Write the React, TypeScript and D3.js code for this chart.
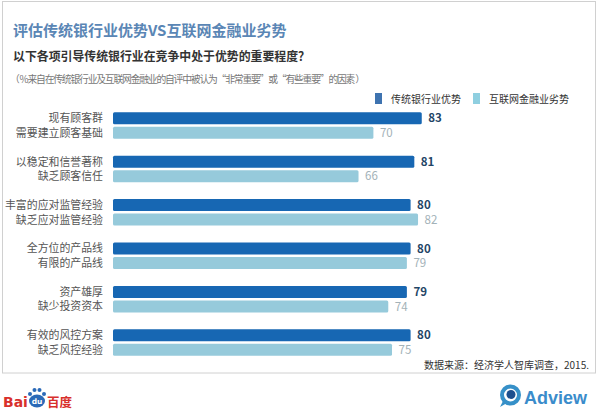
import React from "react";
import * as d3 from "d3";

const categoriesTop = ["现有顾客群", "以稳定和信誉著称", "丰富的应对监管经验", "全方位的产品线", "资产雄厚", "有效的风控方案"];
const categoriesBottom = ["需要建立顾客基础", "缺乏顾客信任", "缺乏应对监管经验", "有限的产品线", "缺少投资资本", "缺乏风控经验"];
const bankValues = [83, 81, 80, 80, 79, 80];
const internetValues = [70, 66, 82, 79, 74, 75];
const seriesNames = ["传统银行业优势", "互联网金融业劣势"];

const FONT = "'Noto Sans CJK SC', 'Noto Sans', sans-serif";
const DARK = "#1767b3";
const LIGHT = "#96cadb";

export default function App() {
  const W = 600, H = 413;
  const x = d3.scaleLinear().domain([0, 100]).range([113, 485]);
  const y0 = d3.scaleBand<number>().domain(d3.range(categoriesTop.length)).range([112.3, 112.3 + 6 * 43.4]).padding(0);
  const y1 = d3.scaleBand<string>().domain(seriesNames).range([0, 26.5]).paddingInner(0.17);
  const bw = y1.bandwidth();

  return (
    <svg width={W} height={H} viewBox={`0 0 ${W} ${H}`} style={{ position: "fixed", left: 0, top: 0, display: "block", background: "#fff" }} fontFamily={FONT}>
      <rect x={2.5} y={1.5} width={593} height={371.5} fill="#fff" stroke="#d0d0d0" strokeWidth={1} />
      <text x={13} y={36} fontSize={15} fontWeight={700} fill="#5a86b5">评估传统银行业优势VS互联网金融业劣势</text>
      <text x={13} y={61} fontSize={12.4} fontWeight={700} fill="#333" textLength={297} lengthAdjust="spacingAndGlyphs">以下各项引导传统银行业在竞争中处于优势的重要程度？</text>
      <text x={10} y={83} fontSize={9.8} fill="#777" textLength={355} lengthAdjust="spacing">（ %来自在传统银行业及互联网金融业的自评中被认为“非常重要”或“有些重要”的因素 ）</text>

      {/* legend */}
      <rect x={375} y={93} width={7} height={11} fill="#3e73b0" />
      <text x={391} y={103} fontSize={10} fill="#333">{seriesNames[0]}</text>
      <rect x={473} y={93} width={7} height={11} fill="#8fcfe0" />
      <text x={489} y={103} fontSize={10} fill="#333">{seriesNames[1]}</text>

      {categoriesTop.map((c, i) => {
        const gy = y0(i)!;
        const yA = gy + y1(seriesNames[0])!;
        const yB = gy + y1(seriesNames[1])!;
        return (
          <g key={i}>
            <rect x={x(0)} y={yA} width={x(bankValues[i]) - x(0)} height={bw} rx={1.5} fill={DARK} />
            <rect x={x(0)} y={yB} width={x(internetValues[i]) - x(0)} height={bw} rx={1.5} fill={LIGHT} />
            <text x={x(bankValues[i]) + 6.5} y={yA + bw / 2} dy="0.36em" fontSize={11.5} fontWeight={700} fill="#1f4566">{bankValues[i]}</text>
            <text x={x(internetValues[i]) + 6.5} y={yB + bw / 2} dy="0.36em" fontSize={11.5} fill="#a3b2b8">{internetValues[i]}</text>
            <text x={103} y={yA + bw / 2} dy="0.36em" fontSize={10.9} fill="#555" textAnchor="end">{c}</text>
            <text x={103} y={yB + bw / 2} dy="0.36em" fontSize={10.9} fill="#555" textAnchor="end">{categoriesBottom[i]}</text>
          </g>
        );
      })}

      <text x={589} y={369} fontSize={10} fill="#333" textAnchor="end">数据来源：经济学人智库调查，2015.</text>

      {/* Baidu logo */}
      <g>
        <text x={3} y={407} fontSize={14} fontWeight={700} fill="#d8302c" fontFamily="'DejaVu Sans', sans-serif">Bai</text>
        <ellipse cx={37} cy={401} rx={8} ry={6.5} fill="#2b6ab8" />
        <circle cx={30} cy={394} r={2} fill="#2b6ab8" />
        <circle cx={34.5} cy={390} r={2} fill="#2b6ab8" />
        <circle cx={39.5} cy={390} r={2} fill="#2b6ab8" />
        <circle cx={44} cy={394} r={2} fill="#2b6ab8" />
        <text x={37} y={404} fontSize={7.5} fontWeight={700} fill="#fff" textAnchor="middle" fontFamily="'DejaVu Sans', sans-serif">du</text>
        <text x={47} y={407} fontSize={12.5} fontWeight={700} fill="#d8302c">百度</text>
      </g>

      {/* Adview logo */}
      <g>
        <circle cx={510.5} cy={395} r={8.5} fill="none" stroke="#3690c8" strokeWidth={4} />
        <path d="M503,401 L500,407 L507,403 Z" fill="#3690c8" />
        <circle cx={511} cy={394.5} r={4.5} fill="#1d4f8e" />
        <text x={524} y={403.5} fontSize={18} fontWeight={700} fill="#3a8ccb" fontFamily="'Liberation Sans', Arial, sans-serif">Adview</text>
      </g>
    </svg>
  );
}
